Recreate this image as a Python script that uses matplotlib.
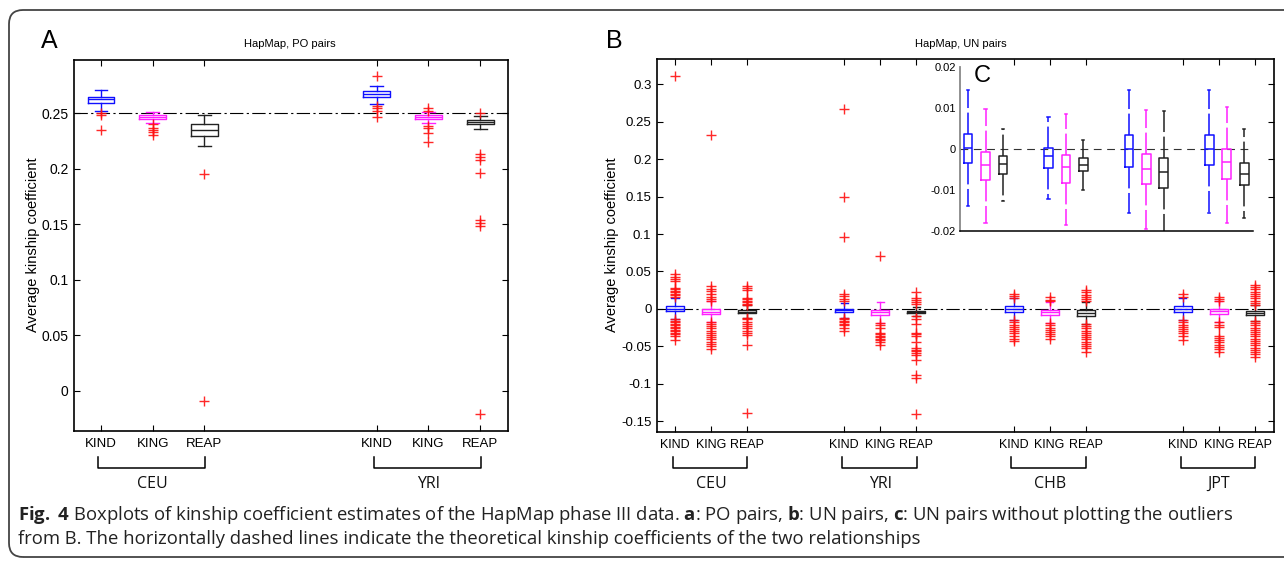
import matplotlib
matplotlib.use("Agg")
import matplotlib.pyplot as plt
import numpy as np
from matplotlib.patches import FancyBboxPatch
from matplotlib.transforms import blended_transform_factory, IdentityTransform

plt.rcParams["font.family"] = ["Liberation Sans", "DejaVu Sans"]
plt.rcParams["mathtext.fontset"] = "custom"
plt.rcParams["mathtext.rm"] = "Open Sans"
plt.rcParams["mathtext.bf"] = "Open Sans:bold"

methods = ["KIND", "KING", "REAP"]

# A: parent-offspring pairs
po_groups = ["CEU", "YRI"]
po_q1 = [0.2593, 0.2446, 0.2290, 0.2644, 0.2449, 0.2398]
po_med = [0.2625, 0.2467, 0.2344, 0.2674, 0.2464, 0.2419]
po_q3 = [0.2641, 0.2482, 0.2398, 0.2695, 0.2479, 0.2437]
po_lo = [0.2518, 0.2407, 0.2203, 0.2578, 0.2407, 0.2356]
po_hi = [0.2704, 0.2506, 0.2479, 0.2746, 0.2506, 0.2470]
po_out = [
    [0.2497, 0.2482, 0.2347],
    [0.2401, 0.2362, 0.2347, 0.2332, 0.2302],
    [0.1952, -0.009],
    [0.2836, 0.2564, 0.2543, 0.2516, 0.2467],
    [0.2543, 0.2522, 0.2384, 0.2362, 0.2323, 0.2239],
    [0.2503, 0.2128, 0.2107, 0.2077, 0.1963, 0.1538, 0.1508, 0.1487, -0.021],
]
po_yticks = [0, 0.05, 0.1, 0.15, 0.2, 0.25]
po_ylabels = ["0", "0.05", "0.1", "0.15", "0.2", "0.25"]

# B / C: unrelated pairs
un_groups = ["CEU", "YRI", "CHB", "JPT"]
un_q1 = [-0.0035, -0.0076, -0.0060, -0.0046, -0.0082, -0.0054,
         -0.0044, -0.0085, -0.0095, -0.0040, -0.0073, -0.0088]
un_med = [0.0003, -0.0040, -0.0037, -0.0018, -0.0043, -0.0039,
          -0.0001, -0.0049, -0.0057, 0.0001, -0.0032, -0.0060]
un_q3 = [0.0037, -0.0007, -0.0016, 0.0003, -0.0014, -0.0023,
         0.0034, -0.0011, -0.0021, 0.0034, 0.0001, -0.0033]
un_lo = [-0.0140, -0.0181, -0.0127, -0.0121, -0.0185, -0.0099,
         -0.0155, -0.0194, -0.0205, -0.0155, -0.0181, -0.0168]
un_hi = [0.0143, 0.0098, 0.0050, 0.0078, 0.0085, 0.0021,
         0.0144, 0.0096, 0.0092, 0.0144, 0.0102, 0.0048]
un_out = [
    [0.3115, 0.047, 0.043, 0.040, 0.037, 0.028, 0.026, 0.024, 0.022, 0.020, 0.018, 0.016,
     -0.014, -0.016, -0.018, -0.020, -0.022, -0.024, -0.026, -0.028, -0.030, -0.032,
     -0.034, -0.037, -0.042],
    [0.232, 0.030, 0.027, 0.024, 0.020, 0.016, 0.013, 0.011, -0.018, -0.020, -0.023,
     -0.026, -0.029, -0.032, -0.035, -0.038, -0.041, -0.044, -0.047, -0.050, -0.054],
    [0.031, 0.028, 0.025, 0.015, 0.013, 0.011, 0.009, 0.007, 0.005, -0.012, -0.014,
     -0.017, -0.020, -0.023, -0.026, -0.029, -0.032, -0.035, -0.048, -0.139],
    [0.267, 0.150, 0.0966, 0.020, 0.017, 0.013, 0.010, -0.012, -0.014, -0.016, -0.018,
     -0.020, -0.022, -0.025, -0.030],
    [0.0712, -0.019, -0.022, -0.025, -0.032, -0.034, -0.036, -0.038, -0.040, -0.042,
     -0.045, -0.049],
    [0.023, 0.015, 0.012, 0.009, 0.006, -0.010, -0.013, -0.020, -0.032, -0.034, -0.036,
     -0.045, -0.053, -0.055, -0.057, -0.059, -0.062, -0.068, -0.088, -0.093, -0.140],
    [0.020, 0.017, 0.015, -0.015, -0.018, -0.021, -0.024, -0.027, -0.030, -0.033,
     -0.036, -0.040, -0.043],
    [0.016, 0.012, 0.010, -0.019, -0.022, -0.025, -0.028, -0.031, -0.034, -0.037, -0.040],
    [0.025, 0.022, 0.019, 0.016, 0.013, 0.010, -0.020, -0.023, -0.026, -0.029, -0.032,
     -0.035, -0.038, -0.041, -0.044, -0.047, -0.050, -0.053, -0.058],
    [0.020, 0.016, -0.015, -0.018, -0.021, -0.024, -0.027, -0.030, -0.033, -0.036, -0.042],
    [0.016, 0.013, 0.011, -0.018, -0.021, -0.024, -0.036, -0.039, -0.042, -0.045, -0.048,
     -0.051, -0.054, -0.058],
    [0.032, 0.029, 0.026, 0.023, 0.020, 0.017, 0.014, 0.011, 0.008, 0.005, -0.016, -0.019,
     -0.022, -0.025, -0.028, -0.031, -0.034, -0.037, -0.040, -0.043, -0.046, -0.049,
     -0.052, -0.055, -0.058, -0.061, -0.064],
]
un_yticks = [-0.15, -0.1, -0.05, 0, 0.05, 0.1, 0.15, 0.2, 0.25, 0.3]
un_ylabels = ["-0.15", "-0.1", "-0.05", "0", "0.05", "0.1", "0.15", "0.2", "0.25", "0.3"]
c_yticks = [-0.02, -0.01, 0, 0.01, 0.02]
c_ylabels = ["-0.02", "-0.01", "0", "0.01", "0.02"]

colors = ["#1010ff", "#ff20ff", "#222222"]

po_pos = [1, 2, 3, 6.33, 7.33, 8.33]
un_pos = [1, 2, 3, 5.7, 6.7, 7.7, 10.4, 11.4, 12.4, 15.1, 16.1, 17.1]
c_pos = [1, 2, 3, 5.6, 6.6, 7.6, 10.2, 11.2, 12.2, 14.8, 15.8, 16.8]

W, H = 1284, 561
fig = plt.figure(figsize=(W / 100, H / 100), dpi=100)


def px(x0, y0, x1, y1):
    # pixel box (top-left origin) -> figure fraction rect
    return [x0 / W, 1 - y1 / H, (x1 - x0) / W, (y1 - y0) / H]


def draw_boxes(ax, pos, q1, med, q3, lo, hi, out, width, capw, ms, whisk_ls="-", lw=1.0):
    stats = []
    for i in range(len(pos)):
        stats.append(dict(q1=q1[i], med=med[i], q3=q3[i], whislo=lo[i], whishi=hi[i],
                          fliers=np.array(out[i]) if out is not None else np.array([])))
    art = ax.bxp(stats, positions=pos, widths=width, capwidths=capw,
                 showfliers=out is not None, manage_ticks=False,
                 flierprops=dict(marker="+", markeredgecolor="#ff1010", markersize=ms,
                                 markeredgewidth=1.0, linestyle="none", alpha=0.9))
    for i in range(len(pos)):
        c = colors[i % 3]
        art["boxes"][i].set(color=c, linewidth=lw)
        art["medians"][i].set(color=c, linewidth=lw)
        for k in (2 * i, 2 * i + 1):
            art["whiskers"][k].set(color=c, linewidth=lw, linestyle=whisk_ls)
            art["caps"][k].set(color=c, linewidth=lw)
    return art


def style_axes(ax):
    ax.tick_params(direction="in", top=True, right=True, length=4, width=0.8)
    ax.tick_params(axis="y", labelsize=10, pad=4)
    ax.tick_params(axis="x", labelsize=9.5, pad=5)
    for s in ax.spines.values():
        s.set_linewidth(1.2)


def brackets(ax, pos, groups):
    tr = blended_transform_factory(ax.transData, fig.transFigure)
    ytop, ybot, ylab = 1 - 457 / H, 1 - 467.5 / H, 1 - 484 / H
    for g, name in enumerate(groups):
        a, b = pos[3 * g] - 0.06, pos[3 * g + 2] + 0.01
        ax.plot([a, a, b, b], [ytop, ybot, ybot, ytop], transform=tr, color="black",
                lw=1.1, clip_on=False)
        ax.text(pos[3 * g + 1], ylab, name, transform=tr, ha="center", va="center",
                fontsize=11.5, family="Open Sans", color="#111111")


# ---- panel A
axA = fig.add_axes(px(74, 60, 508, 431))
axA.axhline(0.25, color="black", lw=0.8, dashes=(12, 3, 2, 3), zorder=0)
draw_boxes(axA, po_pos, po_q1, po_med, po_q3, po_lo, po_hi, po_out, 0.52, 0.25, 7)
axA.set_xlim(0.478, 8.87)
axA.set_ylim(-0.036, 0.2977)
axA.set_xticks(po_pos)
axA.set_xticklabels(methods * len(po_groups))
axA.set_yticks(po_yticks)
axA.set_yticklabels(po_ylabels)
style_axes(axA)
brackets(axA, po_pos, po_groups)

# ---- panel B
axB = fig.add_axes(px(657, 59, 1274, 432))
axB.axhline(0, color="black", lw=0.8, dashes=(12, 3, 2, 3), zorder=0)
draw_boxes(axB, un_pos, un_q1, un_med, un_q3, un_lo, un_hi, un_out, 0.5, 0.2, 6.5)
axB.set_xlim(0.5, 17.63)
axB.set_ylim(-0.1647, 0.334)
axB.set_xticks(un_pos)
axB.set_xticklabels(methods * len(un_groups))
axB.set_yticks(un_yticks)
axB.set_yticklabels(un_ylabels)
style_axes(axB)
axB.tick_params(axis="x", labelsize=9)
axB.tick_params(axis="y", labelsize=9.5)
brackets(axB, un_pos, un_groups)

# ---- inset C
axC = fig.add_axes(px(960, 67, 1253, 231))
axC.axhline(0, color="#333333", lw=0.8, dashes=(7, 5), zorder=0)
draw_boxes(axC, c_pos, un_q1, un_med, un_q3, un_lo, un_hi, None, 0.5, 0.12, 0,
           whisk_ls=(0, (14, 3)), lw=1.1)
axC.set_xlim(0.54, 17.3)
axC.set_ylim(-0.02, 0.02)
axC.set_xticks([])
axC.set_yticks(c_yticks)
axC.set_yticklabels(c_ylabels)
axC.tick_params(axis="y", labelsize=8, length=0, pad=3)
axC.spines["top"].set_visible(False)
axC.spines["right"].set_visible(False)
axC.spines["left"].set_color("#888888")
axC.spines["left"].set_linewidth(1.3)
axC.spines["bottom"].set_linewidth(1.1)

# axis labels, titles, panel letters
for x in (33, 612):
    fig.text(x / W, 1 - 245 / H, "Average kinship coefficient", rotation=90,
             ha="center", va="center", fontsize=10.5)
fig.text(290 / W, 1 - 44 / H, "HapMap, PO pairs", ha="center", va="center", fontsize=8)
fig.text(961 / W, 1 - 44 / H, "HapMap, UN pairs", ha="center", va="center", fontsize=8)
fig.text(49 / W, 1 - 41 / H, "A", ha="center", va="center", fontsize=18)
fig.text(614 / W, 1 - 41 / H, "B", ha="center", va="center", fontsize=18)
fig.text(982 / W, 1 - 76 / H, "C", ha="center", va="center", fontsize=17)

# caption
cap1 = (r"$\mathbf{Fig.}$ $\mathbf{4}$ Boxplots of kinship coefficient estimates of the HapMap phase III data. "
        r"$\mathbf{a}$: PO pairs, $\mathbf{b}$: UN pairs, $\mathbf{c}$: UN pairs without plotting the outliers")
cap2 = ("from B. The horizontally dashed lines indicate the theoretical kinship coefficients "
        "of the two relationships")
fig.text(18 / W, 1 - 515 / H, cap1, ha="left", va="center", fontsize=13.3, family="Open Sans",
         color="#222222")
fig.text(18 / W, 1 - 539 / H, cap2, ha="left", va="center", fontsize=13.3, family="Open Sans",
         color="#222222")

# outer rounded frame
frame = FancyBboxPatch((9, 4), 1300, 547, boxstyle="round,pad=0,rounding_size=14",
                       transform=IdentityTransform(), facecolor="none",
                       edgecolor="#444444", linewidth=1.3)
fig.add_artist(frame)

fig.savefig("out.png", dpi=100)
